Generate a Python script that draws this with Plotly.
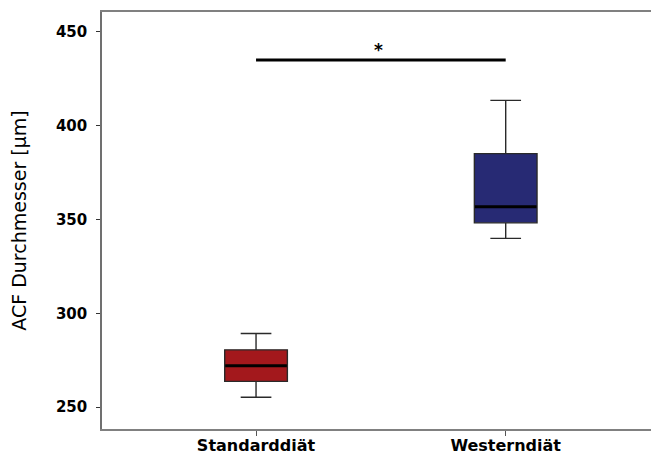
import plotly.graph_objects as go

categories = ["Standarddiät", "Westerndiät"]
lower_whisker = [255.2, 339.9]
q1_values = [263.7, 348.2]
medians = [272.0, 356.8]
q3_values = [280.5, 385.1]
upper_whisker = [289.2, 413.5]
fill_colors = ["#a3181c", "#272a74"]
y_ticks = [250, 300, 350, 400, 450]
sig_pair = ["Standarddiät", "Westerndiät"]
sig_level = 435.0
sig_label = "*"

fig = go.Figure()
for i, cat in enumerate(categories):
    fig.add_trace(go.Box(
        x=[cat],
        q1=[q1_values[i]], median=[medians[i]], q3=[q3_values[i]],
        lowerfence=[lower_whisker[i]], upperfence=[upper_whisker[i]],
        fillcolor=fill_colors[i],
        line=dict(color="#2a2a2a", width=1.4),
        whiskerwidth=0.49,
        width=0.251,
        boxpoints=False,
        hoverinfo="skip",
        showlegend=False,
    ))

# thick median lines
fig.add_trace(go.Scatter(
    x=categories, y=medians, mode="markers",
    marker=dict(symbol="line-ew", size=44, line=dict(color="black", width=3)),
    showlegend=False, hoverinfo="skip",
))

# significance bar
fig.add_trace(go.Scatter(
    x=sig_pair, y=[sig_level, sig_level], mode="lines",
    line=dict(color="black", width=3),
    showlegend=False, hoverinfo="skip",
))
fig.add_annotation(
    x=0.49, y=sig_level, xref="x", yref="y", text="<b>" + sig_label + "</b>",
    showarrow=False, yanchor="bottom", yshift=-2,
    font=dict(family="DejaVu Sans", size=17, color="black"),
)

fig.update_layout(
    width=651, height=461,
    margin=dict(l=102, r=0, t=12, b=32),
    paper_bgcolor="white", plot_bgcolor="white",
    boxmode="overlay",
    showlegend=False,
)
fig.update_xaxes(
    type="category", range=[-0.617, 1.582],
    showline=True, linecolor="#808080", linewidth=1.5, mirror=True,
    showgrid=False, zeroline=False,
    ticks="outside", ticklen=5, tickcolor="#555", tickwidth=1,
    ticklabelstandoff=-4,
    tickfont=dict(family="DejaVu Sans", size=16, color="black", weight="bold"),
    automargin=False,
)
fig.update_yaxes(
    range=[238.3, 460.6],
    tickvals=y_ticks,
    showline=True, linecolor="#707070", linewidth=1.5,
    showgrid=False, zeroline=False,
    ticks="outside", ticklen=4, tickcolor="#333", tickwidth=1.2,
    ticklabelstandoff=6,
    tickfont=dict(family="DejaVu Sans", size=15, color="black", weight="bold"),
    title=dict(text="ACF Durchmesser [µm]", standoff=24,
               font=dict(family="DejaVu Sans", size=19, color="black")),
    automargin=False,
)

fig.write_html("out.html")
